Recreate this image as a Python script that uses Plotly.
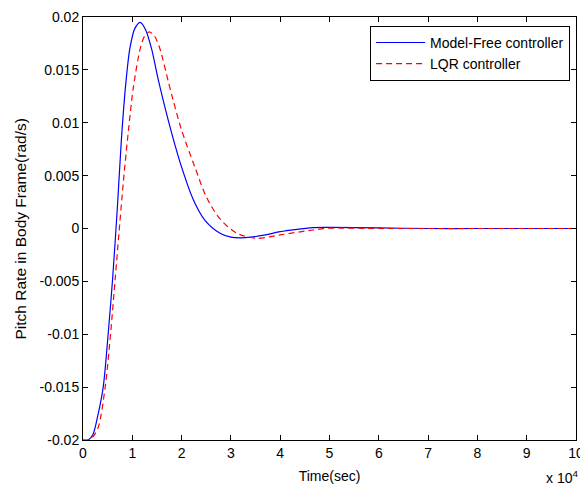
import plotly.graph_objects as go

# Time in units of 1e4 s (axis shows "x 10^4")
t_model_free = [0, 0.1, 0.2, 0.3, 0.41, 0.51, 0.60, 0.70, 0.78, 0.87, 0.95, 1.05, 1.16,
                1.27, 1.39, 1.53, 1.66, 1.80, 2.0, 2.24, 2.47, 2.78, 3.0, 3.2, 3.4, 3.7,
                4.0, 4.3, 4.67, 5.0, 6.0, 7.0, 8.0, 9.0, 10.0]
v_model_free = [-0.02, -0.02, -0.0195, -0.0177, -0.0150, -0.0100, -0.0048, 0.0022, 0.0085,
                0.0138, 0.0170, 0.0189, 0.0195, 0.0188, 0.0170, 0.0140, 0.0115, 0.0090,
                0.0058, 0.0027, 0.0008, -0.00045, -0.00082, -0.00088, -0.00082, -0.0006,
                -0.0003, -0.0001, 0.00008, 0.0001, 0.00005, 0.0, 0.0, 0.0, 0.0]

t_lqr = [0, 0.1, 0.2, 0.31, 0.45, 0.56, 0.65, 0.73, 0.82, 0.92, 1.02, 1.16, 1.25, 1.345,
         1.45, 1.56, 1.73, 1.83, 2.0, 2.27, 2.51, 2.78, 3.12, 3.52, 4.0, 4.67, 5.0, 6.0,
         7.0, 8.0, 9.0, 10.0]
v_lqr = [-0.02, -0.02, -0.0197, -0.0188, -0.0150, -0.0099, -0.0049, -0.0004, 0.0045, 0.0092,
         0.0133, 0.0170, 0.0182, 0.0186, 0.0182, 0.0170, 0.0139, 0.0121, 0.0093, 0.0058,
         0.0029, 0.0009, -0.00045, -0.00093, -0.0006, -0.00014, 0.00003, 0.0, 0.0, 0.0,
         0.0, 0.0]

x_ticks = [0, 1, 2, 3, 4, 5, 6, 7, 8, 9, 10]
y_ticks = [-0.02, -0.015, -0.01, -0.005, 0, 0.005, 0.01, 0.015, 0.02]
y_tick_labels = ["-0.02", "-0.015", "-0.01", "-0.005", "0", "0.005", "0.01", "0.015", "0.02"]

FONT = "Liberation Sans, Arial, sans-serif"

fig = go.Figure()
fig.add_trace(go.Scatter(x=t_model_free, y=v_model_free, mode="lines",
                         name="Model-Free controller", line_shape="spline",
                         line=dict(color="rgb(0,0,255)", width=1.2, smoothing=0.8)))
fig.add_trace(go.Scatter(x=t_lqr, y=v_lqr, mode="lines",
                         name="LQR controller", line_shape="spline",
                         line=dict(color="rgb(255,0,0)", width=1.2, dash="6px,4px",
                                   smoothing=0.8)))

axis_common = dict(showline=True, linecolor="black", linewidth=1, mirror="ticks",
                   ticks="inside", ticklen=5, tickcolor="black", showgrid=False,
                   zeroline=False, automargin=False, ticklabeloverflow="allow",
                   tickfont=dict(family=FONT, size=14, color="black"))

fig.update_xaxes(range=[0, 10], tickvals=x_ticks, ticktext=[str(v) for v in x_ticks],
                 title=dict(text="Time(sec)", font=dict(family=FONT, size=14, color="black"),
                            standoff=11),
                 **axis_common)
fig.update_yaxes(range=[-0.02, 0.02], tickvals=y_ticks, ticktext=y_tick_labels,
                 **axis_common)

fig.add_annotation(text="Pitch Rate in Body Frame(rad/s)", xref="paper", yref="paper",
                   x=-0.1258, y=0.5, xanchor="center", yanchor="middle", textangle=-90,
                   showarrow=False, font=dict(family=FONT, size=15.5, color="black"))

fig.add_annotation(text="x 10<sup>4</sup>", xref="paper", yref="paper", x=1.008, y=-0.1135,
                   xanchor="right", yanchor="bottom", showarrow=False,
                   font=dict(family=FONT, size=14, color="black"))

fig.update_layout(
    width=580, height=488,
    margin=dict(l=83, r=4, t=17, b=48),
    paper_bgcolor="white", plot_bgcolor="white",
    font=dict(family=FONT, size=14, color="black"),
    legend=dict(x=0.988, y=0.979, xanchor="right", yanchor="top",
                bgcolor="white", bordercolor="black", borderwidth=1,
                font=dict(family=FONT, size=14, color="black"),
                tracegroupgap=0, itemwidth=49),
    showlegend=True,
)

fig.write_html("out.html", config={"displayModeBar": False},
               post_script="document.body.style.margin='0';")
